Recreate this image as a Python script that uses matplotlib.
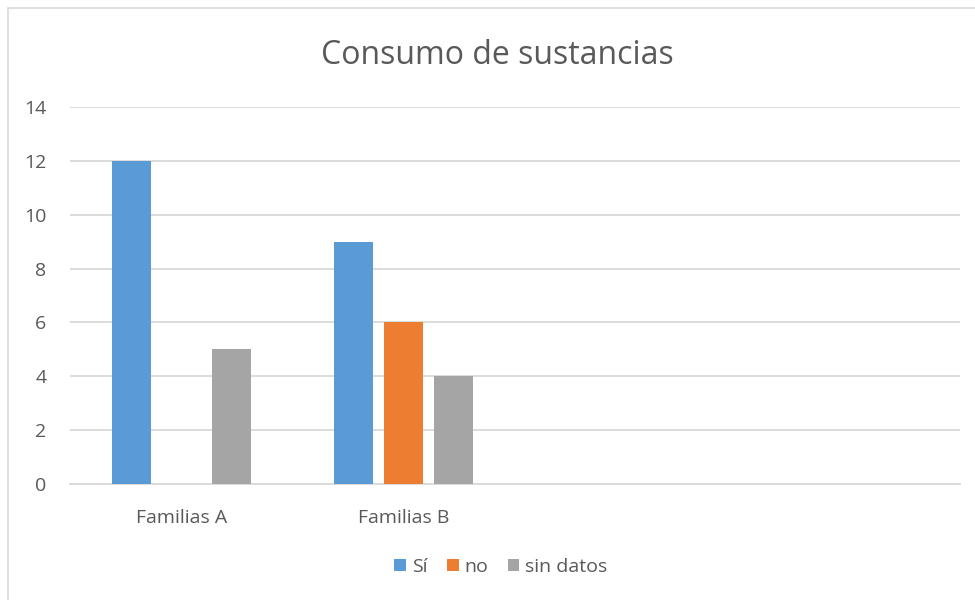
import numpy as np
import matplotlib.pyplot as plt
from matplotlib.patches import Rectangle

# Data (two trailing empty categories in the original sheet)
categories = ['Familias A', 'Familias B', '', '']
si_values = [12, 9, np.nan, np.nan]
no_values = [0, 6, np.nan, np.nan]
sin_datos_values = [5, 4, np.nan, np.nan]

series_names = ['Sí', 'no', 'sin datos']
colors = ['#5B9BD5', '#ED7D31', '#A5A5A5']
text_color = '#595959'
grid_color = '#D9D9D9'

plt.rcParams['font.family'] = ['Open Sans', 'DejaVu Sans']

fig = plt.figure(figsize=(9.75, 6), dpi=100)
ax = fig.add_axes([70 / 975, 1 - 484 / 600, 890 / 975, 377 / 600])

# chart frame
fig.patches.append(Rectangle((8 / 975, -0.01), 1.0, 1 - 8 / 600 + 0.01,
                             transform=fig.transFigure, fill=False,
                             edgecolor=grid_color, linewidth=1.2))

x = np.arange(len(categories))
width = 0.175
offset = 0.225
for i, (vals, name, c) in enumerate(zip([si_values, no_values, sin_datos_values],
                                        series_names, colors)):
    ax.bar(x + (i - 1) * offset, vals, width, color=c, label=name, zorder=3)

ax.set_xlim(-0.5, len(categories) - 0.5)
ax.set_ylim(0, 14)
ax.set_yticks(range(0, 15, 2))
ax.set_xticks(x)
ax.set_xticklabels(categories)
ax.tick_params(axis='both', length=0, labelsize=14, colors=text_color)
ax.tick_params(axis='x', pad=18)
ax.tick_params(axis='y', pad=17)
ax.grid(axis='y', color=grid_color, linewidth=1.3, zorder=0)
for s in ['top', 'right', 'left']:
    ax.spines[s].set_visible(False)
ax.spines['bottom'].set_color(grid_color)
ax.spines['bottom'].set_linewidth(1.3)

fig.text(497 / 975, 1 - 55 / 600, 'Consumo de sustancias', ha='center', va='center',
         fontsize=23, color=text_color)

fig.legend(loc='center', bbox_to_anchor=(501 / 975, 1 - 567 / 600), ncol=3,
           frameon=False, fontsize=14, labelcolor=text_color,
           handlelength=0.6, handleheight=0.6, handletextpad=0.3, columnspacing=1.0)

fig.savefig('out.png', dpi=100, facecolor='white')
